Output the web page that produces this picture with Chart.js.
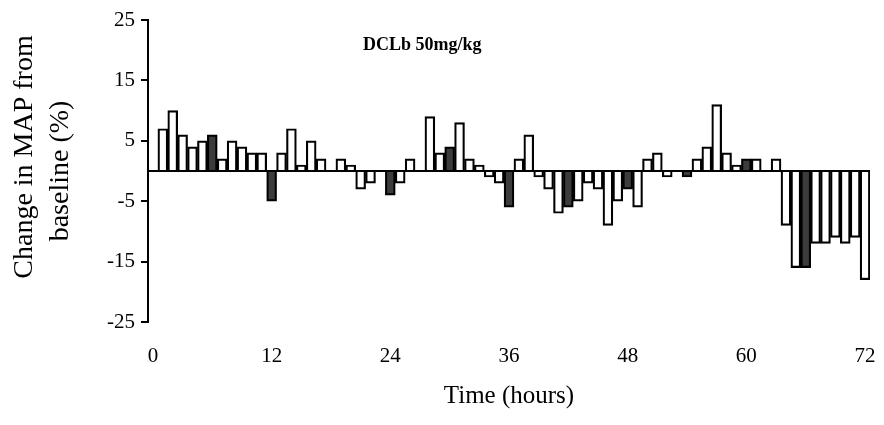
<!DOCTYPE html>
<html>
<head>
<meta charset="utf-8">
<script src="https://cdn.jsdelivr.net/npm/chart.js@4.4.1/dist/chart.umd.min.js"></script>
<style>
    html, body { margin: 0; padding: 0; background: #fff; }
    #wrap { width: 884px; height: 425px; }
</style>
</head>
<body>
<div id="wrap"><canvas id="MapChange"></canvas></div>
<script>
    // hours on the axis (0 has no bar)
    var hours = ['0', '1', '2', '3', '4', '5', '6', '7', '8', '9', '10', '11', '12', '13', '14', '15', '16', '17', '18',
        '19', '20', '21', '22', '23', '24', '25', '26', '27', '28', '29', '30', '31', '32', '33', '34', '35', '36',
        '37', '38', '39', '40', '41', '42', '43', '44', '45', '46', '47', '48', '49', '50', '51', '52', '53', '54',
        '55', '56', '57', '58', '59', '60', '61', '62', '63', '64', '65', '66', '67', '68', '69', '70', '71', '72'];

    // % change in MAP, hours 0..72
    var mapChange = [null, 7, 10, 6, 4, 5, 6, 2, 5, 4, 3, 3, -5, 3, 7, 1, 5, 2, 0,
        2, 1, -3, -2, 0, -4, -2, 2, 0, 9, 3, 4, 8, 2, 1, -1, -2, -6,
        2, 6, -1, -3, -7, -6, -5, -2, -3, -9, -5, -3, -6, 2, 3, -1, 0, -1,
        2, 4, 11, 3, 1, 2, 2, 0, 2, -9, -16, -16, -12, -12, -11, -12, -11, -18];

    // hours drawn as dark bars
    var darkHours = ['6', '12', '18', '24', '30', '36', '42', '48', '54', '60', '66'];

    var xTickLabels = ['0', '12', '24', '36', '48', '60', '72'];
    var yTicks = [-25, -15, -5, 0, 5, 15, 25];
    var panelText = 'DCLb 50mg/kg';

    var serif = '"Liberation Serif", "Times New Roman", serif';

    var lightData = mapChange.map(function (v, i) { return darkHours.indexOf(hours[i]) >= 0 ? null : v; });
    var darkData = mapChange.map(function (v, i) { return darkHours.indexOf(hours[i]) >= 0 ? v : null; });

    var panelTitle = {
        id: 'panelTitle',
        afterDraw: function (chart) {
            var ctx = chart.ctx, a = chart.chartArea;
            ctx.save();
            ctx.font = 'bold 18px ' + serif;
            ctx.fillStyle = '#000';
            ctx.textAlign = 'center';
            ctx.textBaseline = 'middle';
            ctx.fillText(panelText, a.left + a.width * 0.38, a.top + 25);
            ctx.restore();
        }
    };

    new Chart(document.getElementById('MapChange'), {
        type: 'bar',
        data: {
            labels: hours,
            datasets: [
                {
                    label: 'Hourly',
                    data: lightData,
                    backgroundColor: '#ffffff',
                    borderColor: '#000000',
                    borderWidth: 2.2,
                    barPercentage: 1,
                    categoryPercentage: 1
                },
                {
                    label: '6-hourly',
                    data: darkData,
                    backgroundColor: '#3c3c3c',
                    borderColor: '#000000',
                    borderWidth: 2.2,
                    barPercentage: 1,
                    categoryPercentage: 1
                }
            ]
        },
        options: {
            responsive: true,
            maintainAspectRatio: false,
            animation: false,
            devicePixelRatio: 1,
            skipNull: true,
            layout: { padding: { top: 20, right: 14, left: 0, bottom: 0 } },
            plugins: {
                legend: { display: false },
                tooltip: { enabled: false }
            },
            scales: {
                x: {
                    type: 'category',
                    offset: true,
                    grid: { display: false, drawTicks: true, tickLength: 20 },
                    border: { display: false },
                    ticks: {
                        autoSkip: false,
                        maxRotation: 0,
                        padding: 2,
                        color: '#000',
                        font: { family: serif, size: 21 },
                        callback: function (val) {
                            var l = this.getLabelForValue(val);
                            return xTickLabels.indexOf(l) >= 0 ? l : '';
                        }
                    },
                    title: {
                        display: true,
                        text: 'Time (hours)',
                        color: '#000',
                        font: { family: serif, size: 25 },
                        padding: { top: 4, bottom: 14 }
                    },
                    afterFit: function (s) { s.height = 103; }
                },
                y: {
                    min: -25,
                    max: 25,
                    afterBuildTicks: function (axis) {
                        axis.ticks = yTicks.map(function (v) { return { value: v }; });
                    },
                    ticks: {
                        color: '#000',
                        padding: 6,
                        font: { family: serif, size: 21 },
                        callback: function (v) { return v === 0 ? '' : v; }
                    },
                    grid: {
                        color: function (c) { return c.tick && c.tick.value === 0 ? '#000' : 'rgba(0,0,0,0)'; },
                        tickColor: function (c) { return c.tick && c.tick.value === 0 ? 'rgba(0,0,0,0)' : '#000'; },
                        lineWidth: 2,
                        tickLength: 7
                    },
                    border: { display: true, color: '#000', width: 2 },
                    title: {
                        display: true,
                        text: ['    Change in MAP from', 'baseline (%)'],
                        color: '#000',
                        font: { family: serif, size: 28, lineHeight: 1.3 },
                        padding: { top: 6, bottom: 0 }
                    },
                    afterFit: function (s) { s.width = 148; }
                }
            }
        },
        plugins: [panelTitle]
    });
</script>
</body>
</html>
